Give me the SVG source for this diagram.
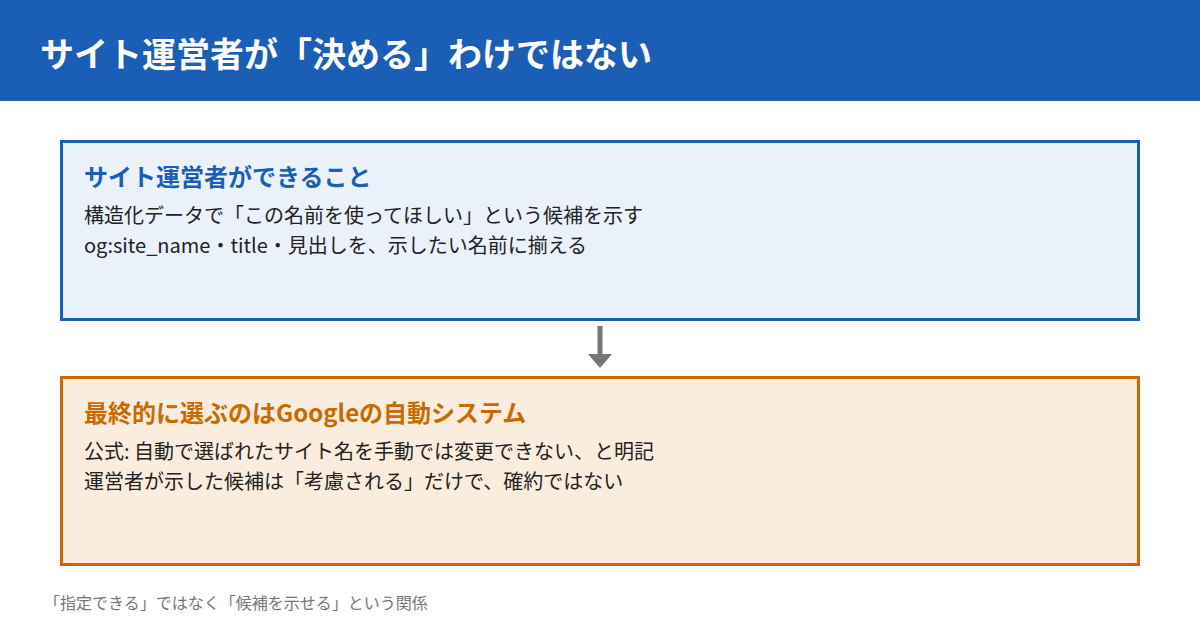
<svg xmlns="http://www.w3.org/2000/svg" width="1200" height="630" viewBox="0 0 1200 630">
<style>
text{font-family:"Noto Sans CJK JP","Noto Sans",sans-serif}
.h{font-size:34px;font-weight:700;fill:#fff}
.t{font-size:24px;font-weight:700}
.b{font-size:20px;fill:#222}
.f{font-size:16px;fill:#777}
</style>
<rect width="1200" height="630" fill="#fff"/>
<g id="header">
<rect x="0" y="0" width="1200" height="101" fill="#1b5eb5"/>
<text class="h" x="40" y="67">サイト運営者が「決める」わけではない</text>
</g>
<g id="node-operator">
<rect x="61.5" y="141.5" width="1077" height="178" fill="#eaf1fb" stroke="#1b5eb5" stroke-width="3"/>
<text class="t" x="84" y="186" fill="#1b5eb5">サイト運営者ができること</text>
<text class="b" x="84" y="223">構造化データで「この名前を使ってほしい」という候補を示す</text>
<text class="b" x="84" y="253">og:site_name・title・見出しを、示したい名前に揃える</text>
</g>
<g id="connectors">
<line x1="600" y1="326" x2="600" y2="356" stroke="#777" stroke-width="5"/>
<path d="M588,354 L612,354 L600,368 z" fill="#777"/>
</g>
<g id="node-google">
<rect x="61.5" y="377.5" width="1077" height="187" fill="#fbeddd" stroke="#c96b00" stroke-width="3"/>
<text class="t" x="84" y="422" fill="#c96b00">最終的に選ぶのはGoogleの自動システム</text>
<text class="b" x="84" y="459">公式: 自動で選ばれたサイト名を手動では変更できない、と明記</text>
<text class="b" x="84" y="489">運営者が示した候補は「考慮される」だけで、確約ではない</text>
</g>
<text class="f" x="44" y="609">「指定できる」ではなく「候補を示せる」という関係</text>
</svg>
